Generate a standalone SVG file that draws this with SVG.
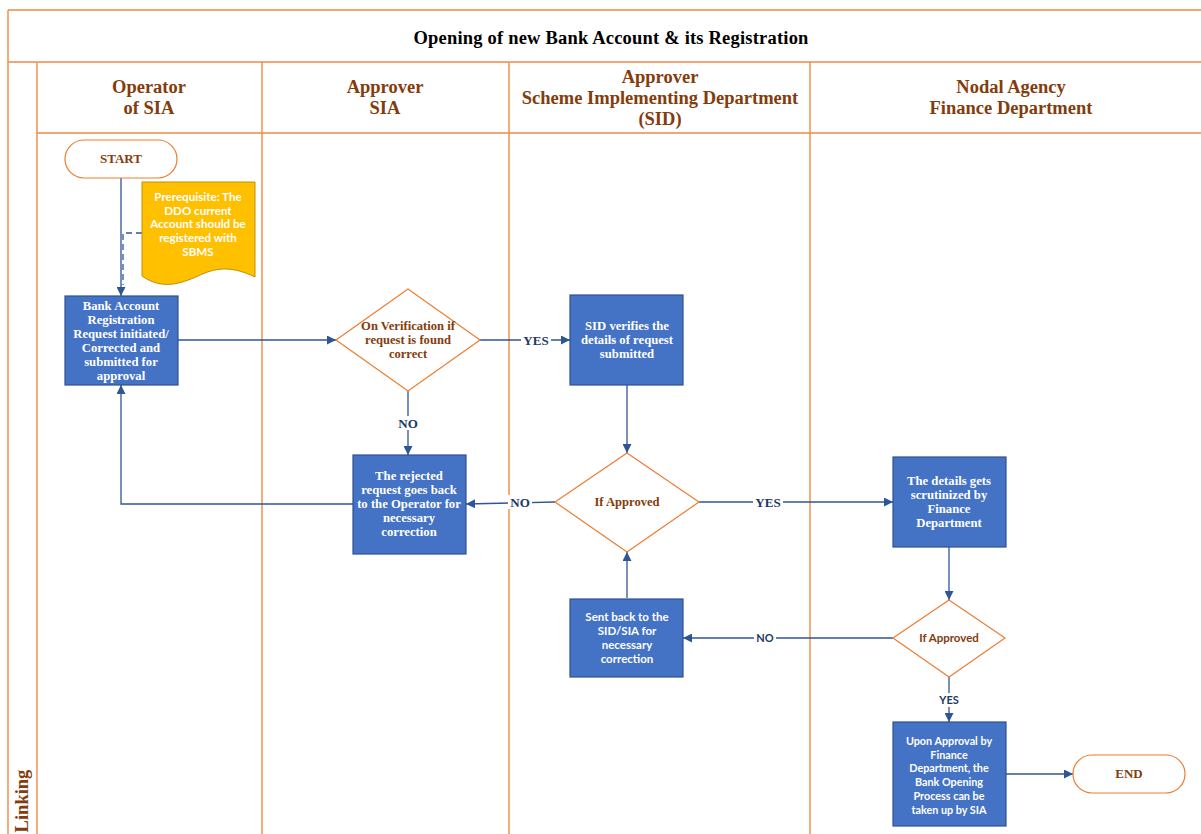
<svg xmlns="http://www.w3.org/2000/svg" width="1201" height="834" viewBox="0 0 1201 834">
  <defs>
    <marker id="arr" viewBox="0 0 10 10" refX="10" refY="5" markerWidth="9" markerHeight="9" markerUnits="userSpaceOnUse" orient="auto">
      <path d="M0,0 L10,5 L0,10 z" fill="#2F5597"/>
    </marker>
    <style>
      .lane { stroke: #EE8A45; stroke-width: 1.4; fill: none; }
      .title { font-family: "Liberation Serif", serif; font-weight: bold; font-size: 18.5px; letter-spacing: 0.2px; fill: #000; text-anchor: middle; }
      .hdr { font-family: "Liberation Serif", serif; font-weight: bold; font-size: 18.5px; fill: #843C0C; text-anchor: middle; }
      .term { fill: #fff; stroke: #ED7D31; stroke-width: 1.2; }
      .termtxt { font-family: "Liberation Serif", serif; font-weight: bold; font-size: 13px; fill: #843C0C; text-anchor: middle; }
      .box { fill: #4472C4; stroke: #2F528F; stroke-width: 1.2; }
      .boxtxt { font-family: "Liberation Serif", serif; font-weight: bold; font-size: 12.7px; fill: #fff; text-anchor: middle; }
      .boxsans { font-family: "Lato", "Open Sans", sans-serif; font-weight: bold; font-size: 11.5px; fill: #fff; text-anchor: middle; }
      .boxsans2 { font-family: "Lato", "Open Sans", sans-serif; font-weight: bold; font-size: 10.8px; fill: #fff; text-anchor: middle; }
      .dia { fill: #fff; stroke: #ED7D31; stroke-width: 1.2; }
      .diatxt { font-family: "Liberation Serif", serif; font-weight: bold; font-size: 12.6px; fill: #843C0C; text-anchor: middle; }
      .diasans { font-family: "Lato", "Open Sans", sans-serif; font-weight: bold; font-size: 11.5px; fill: #843C0C; text-anchor: middle; }
      .conn { stroke: #2F5597; stroke-width: 1.3; fill: none; }
      .lbl { font-family: "Liberation Serif", serif; font-weight: bold; font-size: 13px; fill: #203864; text-anchor: middle; }
      .lblsans { font-family: "Lato", "Open Sans", sans-serif; font-weight: bold; font-size: 11px; fill: #203864; text-anchor: middle; }
      .doc { fill: #FFC000; stroke: #BF9000; stroke-width: 1; }
      .doctxt { font-family: "Lato", "Open Sans", sans-serif; font-weight: bold; font-size: 11.6px; fill: #fff; text-anchor: middle; }
    </style>
  </defs>
  <rect width="1201" height="834" fill="#fff"/>

  <!-- swimlane frame -->
  <g id="frame">
    <line class="lane" x1="8" y1="10" x2="1201" y2="10"/>
    <line class="lane" x1="8" y1="62" x2="1201" y2="62"/>
    <line class="lane" x1="37" y1="133" x2="1201" y2="133"/>
    <line class="lane" x1="8" y1="10" x2="8" y2="834"/>
    <line class="lane" x1="37" y1="62" x2="37" y2="834"/>
    <line class="lane" x1="262" y1="62" x2="262" y2="834"/>
    <line class="lane" x1="509" y1="62" x2="509" y2="834"/>
    <line class="lane" x1="810" y1="62" x2="810" y2="834"/>
    <text class="title" x="611" y="44">Opening of new Bank Account &amp; its Registration</text>
    <text class="hdr" x="149" y="93">Operator</text>
    <text class="hdr" x="149" y="114">of SIA</text>
    <text class="hdr" x="385" y="93">Approver</text>
    <text class="hdr" x="385" y="114">SIA</text>
    <text class="hdr" x="660" y="83">Approver</text>
    <text class="hdr" x="660" y="104">Scheme Implementing Department</text>
    <text class="hdr" x="660" y="125">(SID)</text>
    <text class="hdr" x="1011" y="93">Nodal Agency</text>
    <text class="hdr" x="1011" y="114">Finance Department</text>
    <text class="hdr" transform="translate(28,801) rotate(-90)">Linking</text>
  </g>

  <!-- connectors -->
  <g id="connectors">
    <line class="conn" x1="121" y1="178" x2="121" y2="296" marker-end="url(#arr)"/>
    <path class="conn" d="M142,233 H123 V285" stroke-dasharray="6,4"/>
    <line class="conn" x1="178" y1="340" x2="336" y2="340" marker-end="url(#arr)"/>
    <line class="conn" x1="480" y1="340" x2="570" y2="340" marker-end="url(#arr)"/>
    <line class="conn" x1="408" y1="391" x2="408" y2="455" marker-end="url(#arr)"/>
    <path class="conn" d="M353,504 H121 V385" marker-end="url(#arr)"/>
    <line class="conn" x1="627" y1="385" x2="627" y2="453" marker-end="url(#arr)"/>
    <line class="conn" x1="555" y1="502" x2="466" y2="504" marker-end="url(#arr)"/>
    <line class="conn" x1="699" y1="502" x2="893" y2="502" marker-end="url(#arr)"/>
    <line class="conn" x1="627" y1="598" x2="627" y2="552" marker-end="url(#arr)"/>
    <line class="conn" x1="949" y1="547" x2="949" y2="600" marker-end="url(#arr)"/>
    <line class="conn" x1="893" y1="638" x2="683" y2="638" marker-end="url(#arr)"/>
    <line class="conn" x1="949" y1="677" x2="949" y2="722" marker-end="url(#arr)"/>
    <line class="conn" x1="1006" y1="774" x2="1073" y2="774" marker-end="url(#arr)"/>
    <!-- branch labels -->
    <rect x="521" y="333" width="30" height="14" fill="#fff"/>
    <text class="lbl" x="536" y="345">YES</text>
    <rect x="396" y="416" width="24" height="14" fill="#fff"/>
    <text class="lbl" x="408" y="428">NO</text>
    <rect x="508" y="495" width="24" height="14" fill="#fff"/>
    <text class="lbl" x="520" y="507">NO</text>
    <rect x="753" y="495" width="30" height="14" fill="#fff"/>
    <text class="lbl" x="768" y="507">YES</text>
    <rect x="754" y="631" width="22" height="14" fill="#fff"/>
    <text class="lblsans" x="765" y="642">NO</text>
    <rect x="936" y="693" width="26" height="14" fill="#fff"/>
    <text class="lblsans" x="949" y="704">YES</text>
  </g>

  <g id="start">
    <rect class="term" x="65" y="140" width="112" height="38" rx="19"/>
    <text class="termtxt" x="121" y="163">START</text>
  </g>

  <g id="prerequisite">
    <path class="doc" d="M142,182 H255 V277 C230,265 215,268 198,276 C180,284 162,290 142,276 Z"/>
    <text class="doctxt" x="198" y="201">Prerequisite: The</text>
    <text class="doctxt" x="198" y="215">DDO current</text>
    <text class="doctxt" x="198" y="228">Account should be</text>
    <text class="doctxt" x="198" y="242">registered with</text>
    <text class="doctxt" x="198" y="256">SBMS</text>
  </g>

  <g id="request">
    <rect class="box" x="65" y="296" width="113" height="89"/>
    <text class="boxtxt" x="121" y="310">Bank Account</text>
    <text class="boxtxt" x="121" y="324">Registration</text>
    <text class="boxtxt" x="121" y="338">Request initiated/</text>
    <text class="boxtxt" x="121" y="352">Corrected and</text>
    <text class="boxtxt" x="121" y="366">submitted for</text>
    <text class="boxtxt" x="121" y="380">approval</text>
  </g>

  <g id="verify-sia">
    <polygon class="dia" points="408,289 480,340 408,391 336,340"/>
    <text class="diatxt" x="408" y="330">On Verification if</text>
    <text class="diatxt" x="408" y="344">request is found</text>
    <text class="diatxt" x="408" y="358">correct</text>
  </g>

  <g id="sid-verify">
    <rect class="box" x="570" y="295" width="113" height="90"/>
    <text class="boxtxt" x="627" y="330">SID verifies the</text>
    <text class="boxtxt" x="627" y="344">details of request</text>
    <text class="boxtxt" x="627" y="358">submitted</text>
  </g>

  <g id="rejected">
    <rect class="box" x="353" y="455" width="113" height="99"/>
    <text class="boxtxt" x="409" y="480">The rejected</text>
    <text class="boxtxt" x="409" y="494">request goes back</text>
    <text class="boxtxt" x="409" y="508">to the Operator for</text>
    <text class="boxtxt" x="409" y="522">necessary</text>
    <text class="boxtxt" x="409" y="536">correction</text>
  </g>

  <g id="sid-approved">
    <polygon class="dia" points="627,453 699,502 627,552 555,502"/>
    <text class="diatxt" x="627" y="506">If Approved</text>
  </g>

  <g id="sent-back">
    <rect class="box" x="570" y="599" width="113" height="78"/>
    <text class="boxsans" x="627" y="621">Sent back to the</text>
    <text class="boxsans" x="627" y="635">SID/SIA  for</text>
    <text class="boxsans" x="627" y="649">necessary</text>
    <text class="boxsans" x="627" y="663">correction</text>
  </g>

  <g id="scrutiny">
    <rect class="box" x="893" y="457" width="113" height="90"/>
    <text class="boxtxt" x="949" y="485">The details gets</text>
    <text class="boxtxt" x="949" y="499">scrutinized by</text>
    <text class="boxtxt" x="949" y="513">Finance</text>
    <text class="boxtxt" x="949" y="527">Department</text>
  </g>

  <g id="fd-approved">
    <polygon class="dia" points="949,600 1005,638 949,677 893,638"/>
    <text class="diasans" x="949" y="642">If Approved</text>
  </g>

  <g id="final">
    <rect class="box" x="893" y="722" width="113" height="104"/>
    <text class="boxsans2" x="949" y="745">Upon Approval by</text>
    <text class="boxsans2" x="949" y="759">Finance</text>
    <text class="boxsans2" x="949" y="772">Department, the</text>
    <text class="boxsans2" x="949" y="786">Bank Opening</text>
    <text class="boxsans2" x="949" y="800">Process can be</text>
    <text class="boxsans2" x="949" y="814">taken up by SIA</text>
  </g>

  <g id="end">
    <rect class="term" x="1073" y="755" width="112" height="38" rx="19"/>
    <text class="termtxt" x="1129" y="778">END</text>
  </g>
</svg>
